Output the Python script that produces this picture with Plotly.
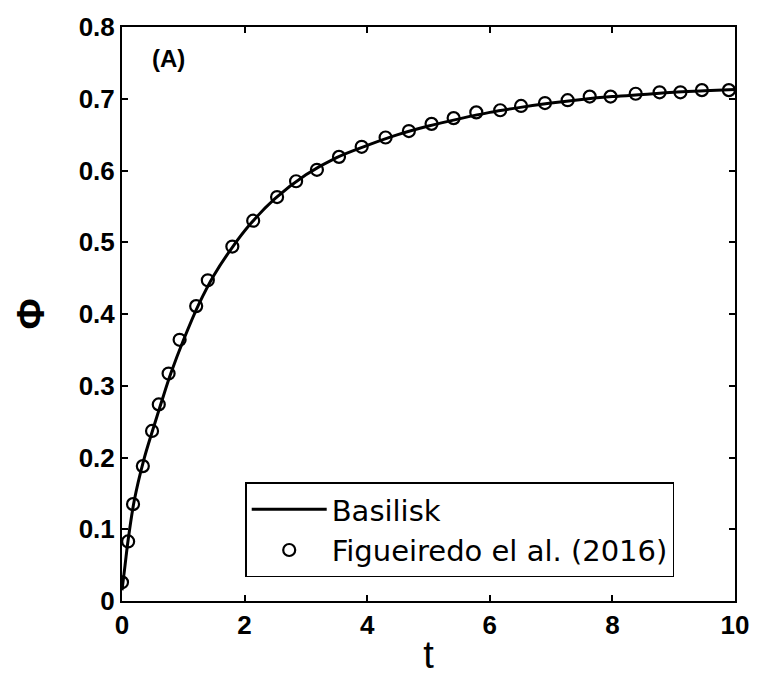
import plotly.graph_objects as go

# Figueiredo et al. (2016) reference points
t_ref = [0.0, 0.10, 0.18, 0.34, 0.49, 0.60, 0.76, 0.94, 1.21, 1.40, 1.80, 2.14, 2.53,
         2.84, 3.18, 3.54, 3.91, 4.30, 4.68, 5.05, 5.41, 5.78, 6.17, 6.51, 6.90, 7.27,
         7.63, 7.97, 8.38, 8.77, 9.11, 9.46, 9.90]
phi_ref = [0.026, 0.083, 0.135, 0.188, 0.237, 0.274, 0.317, 0.364, 0.411, 0.447, 0.494,
           0.530, 0.563, 0.585, 0.601, 0.619, 0.633, 0.646, 0.655, 0.665, 0.673, 0.681,
           0.684, 0.690, 0.694, 0.698, 0.703, 0.703, 0.707, 0.709, 0.709, 0.712, 0.712]

# Basilisk curve
t_bas = [0.0, 0.05, 0.10, 0.20, 0.35, 0.50, 0.65, 0.80, 1.00, 1.25, 1.50, 1.80, 2.10,
         2.50, 3.00, 3.50, 4.00, 4.50, 5.00, 5.50, 6.00, 6.50, 7.00, 7.50, 8.00, 8.50,
         9.00, 9.50, 10.0]
phi_bas = [0.015, 0.050, 0.085, 0.140, 0.195, 0.238, 0.279, 0.318, 0.363, 0.413, 0.454,
           0.493, 0.526, 0.561, 0.594, 0.618, 0.635, 0.650, 0.662, 0.672, 0.681, 0.688,
           0.694, 0.699, 0.703, 0.706, 0.709, 0.711, 0.713]

x_ticks = [0, 2, 4, 6, 8, 10]
x_ticktext = ["0", "2", "4", "6", "8", "10"]
y_ticks = [0, 0.1, 0.2, 0.3, 0.4, 0.5, 0.6, 0.7, 0.8]
y_ticktext = ["0", "0.1", "0.2", "0.3", "0.4", "0.5", "0.6", "0.7", "0.8"]

fig = go.Figure()
fig.add_trace(go.Scatter(
    x=t_bas, y=phi_bas, mode="lines", name="Basilisk",
    line=dict(color="black", width=3, shape="spline")))
fig.add_trace(go.Scatter(
    x=t_ref, y=phi_ref, mode="markers", name="Figueiredo el al. (2016)",
    marker=dict(symbol="circle-open", size=12, color="black", line=dict(width=2.2))))

tickfont = dict(family="Liberation Sans", size=26, color="black", weight="bold")
fig.update_layout(
    width=761, height=681,
    margin=dict(l=122, r=23, t=21, b=80),
    plot_bgcolor="white", paper_bgcolor="white",
    showlegend=True,
    legend=dict(x=0.201, y=0.041, xanchor="left", yanchor="bottom",
                bgcolor="white", bordercolor="black", borderwidth=1.5,
                font=dict(family="DejaVu Sans", size=29, color="black"),
                tracegroupgap=0, itemwidth=75),
    xaxis=dict(range=[0, 10], tickvals=x_ticks, ticktext=x_ticktext,
               ticks="inside", ticklen=6, tickwidth=2, tickcolor="black",
               showline=True, linecolor="black", linewidth=2, mirror="ticks",
               showgrid=False, zeroline=False, tickfont=tickfont,
               title=dict(text="t", font=dict(family="Liberation Sans", size=38, color="black"),
                          standoff=2)),
    yaxis=dict(range=[0, 0.8], tickvals=y_ticks, ticktext=y_ticktext,
               ticks="inside", ticklen=6, tickwidth=2, tickcolor="black",
               showline=True, linecolor="black", linewidth=2, mirror="ticks",
               showgrid=False, zeroline=False, tickfont=tickfont,
               title=dict(text="Φ", font=dict(family="Liberation Sans", size=38, color="black",
                                               weight="bold"),
                          standoff=22)),
    annotations=[dict(text="(A)", x=0.045, y=0.945, xref="paper", yref="paper",
                      xanchor="left", yanchor="middle", showarrow=False,
                      font=dict(family="Liberation Sans", size=24, color="black",
                                weight="bold"))],
)

fig.write_html("out.html")
